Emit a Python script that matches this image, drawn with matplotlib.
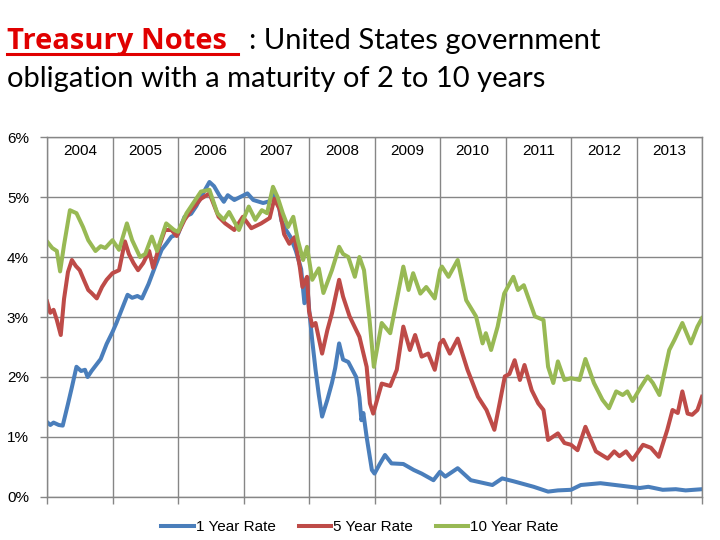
import numpy as np
import matplotlib
matplotlib.use("Agg")
import matplotlib.pyplot as plt

# weekly-ish treasury yields (fractional year, percent)
t_1y = [2004.00, 2004.05, 2004.10, 2004.18, 2004.24, 2004.32, 2004.38, 2004.45, 2004.52, 2004.58,
        2004.62, 2004.68, 2004.75, 2004.82, 2004.91, 2005.00, 2005.06, 2005.15, 2005.23, 2005.30,
        2005.38, 2005.45, 2005.55, 2005.65, 2005.75, 2005.82, 2005.90, 2006.00, 2006.10, 2006.20,
        2006.28, 2006.35, 2006.48, 2006.55, 2006.63, 2006.70, 2006.76, 2006.86, 2006.95, 2007.06,
        2007.15, 2007.30, 2007.40, 2007.45, 2007.53, 2007.58, 2007.65, 2007.72, 2007.80, 2007.88,
        2007.93, 2007.97, 2008.00, 2008.05, 2008.10, 2008.15, 2008.20, 2008.28, 2008.35, 2008.40,
        2008.46, 2008.52, 2008.60, 2008.72, 2008.77, 2008.80, 2008.83, 2008.88, 2008.96, 2009.00,
        2009.08, 2009.16, 2009.26, 2009.44, 2009.60, 2009.72, 2009.90, 2010.00, 2010.08, 2010.27,
        2010.47, 2010.80, 2010.95, 2011.13, 2011.43, 2011.65, 2011.80, 2012.00, 2012.15, 2012.45,
        2012.75, 2013.05, 2013.18, 2013.40, 2013.60, 2013.75, 2014.00]
r_1y = [1.25, 1.20, 1.24, 1.20, 1.19, 1.55, 1.83, 2.17, 2.10, 2.12,
        2.00, 2.10, 2.20, 2.30, 2.55, 2.75, 2.90, 3.15, 3.37, 3.32,
        3.35, 3.31, 3.55, 3.84, 4.12, 4.22, 4.34, 4.38, 4.67, 4.72,
        4.85, 5.00, 5.25, 5.18, 5.03, 4.92, 5.03, 4.95, 5.00, 5.06,
        4.95, 4.90, 4.93, 5.06, 4.90, 4.60, 4.45, 4.33, 4.10, 3.80,
        3.23, 3.56, 3.15, 2.60, 2.12, 1.70, 1.34, 1.62, 1.90, 2.15,
        2.56, 2.29, 2.25, 2.00, 1.66, 1.28, 1.40, 1.00, 0.45, 0.39,
        0.55, 0.70, 0.56, 0.55, 0.45, 0.39, 0.28, 0.42, 0.34, 0.48,
        0.28, 0.20, 0.31, 0.26, 0.17, 0.09, 0.11, 0.12, 0.20, 0.23,
        0.19, 0.15, 0.17, 0.12, 0.13, 0.11, 0.13]

t_5y = [2004.00, 2004.05, 2004.10, 2004.15, 2004.21, 2004.26, 2004.32, 2004.38, 2004.44, 2004.50,
        2004.57, 2004.63, 2004.68, 2004.76, 2004.84, 2004.91, 2005.00, 2005.10, 2005.19, 2005.25,
        2005.32, 2005.39, 2005.47, 2005.56, 2005.62, 2005.72, 2005.80, 2005.90, 2005.98, 2006.10,
        2006.20, 2006.35, 2006.48, 2006.62, 2006.72, 2006.86, 2006.99, 2007.12, 2007.27, 2007.40,
        2007.47, 2007.55, 2007.62, 2007.70, 2007.78, 2007.86, 2007.90, 2007.97, 2008.00, 2008.05,
        2008.10, 2008.20, 2008.28, 2008.35, 2008.46, 2008.52, 2008.62, 2008.77, 2008.88, 2008.93,
        2008.98, 2009.11, 2009.24, 2009.34, 2009.44, 2009.54, 2009.62, 2009.72, 2009.82, 2009.92,
        2010.00, 2010.05, 2010.15, 2010.27, 2010.42, 2010.58, 2010.71, 2010.83, 2010.91, 2010.99,
        2011.06, 2011.14, 2011.22, 2011.29, 2011.40, 2011.50, 2011.58, 2011.65, 2011.80, 2011.90,
        2012.00, 2012.10, 2012.22, 2012.38, 2012.56, 2012.66, 2012.74, 2012.84, 2012.94, 2013.10,
        2013.22, 2013.34, 2013.47, 2013.55, 2013.63, 2013.70, 2013.78, 2013.85, 2013.93, 2014.00]
r_5y = [3.26, 3.07, 3.12, 2.95, 2.70, 3.30, 3.75, 3.95, 3.85, 3.78,
        3.60, 3.45, 3.40, 3.31, 3.50, 3.62, 3.73, 3.78, 4.26, 4.05,
        3.90, 3.78, 3.90, 4.10, 3.82, 4.20, 4.45, 4.45, 4.35, 4.62,
        4.78, 4.97, 5.06, 4.67, 4.56, 4.45, 4.67, 4.48, 4.56, 4.65,
        4.97, 4.80, 4.38, 4.22, 4.33, 3.83, 3.50, 3.67, 3.10, 2.85,
        2.90, 2.39, 2.78, 3.06, 3.62, 3.34, 3.01, 2.67, 2.17, 1.56,
        1.39, 1.89, 1.85, 2.12, 2.84, 2.45, 2.70, 2.34, 2.39, 2.12,
        2.56, 2.62, 2.39, 2.64, 2.12, 1.67, 1.45, 1.12, 1.56, 2.01,
        2.05, 2.28, 1.95, 2.20, 1.78, 1.56, 1.45, 0.95, 1.06, 0.90,
        0.87, 0.78, 1.17, 0.76, 0.64, 0.76, 0.68, 0.76, 0.62, 0.87,
        0.82, 0.67, 1.12, 1.45, 1.40, 1.76, 1.39, 1.37, 1.45, 1.67]

t_10y = [2004.00, 2004.08, 2004.15, 2004.20, 2004.26, 2004.35, 2004.45, 2004.55, 2004.63, 2004.74,
         2004.82, 2004.89, 2005.00, 2005.10, 2005.22, 2005.30, 2005.42, 2005.50, 2005.60, 2005.68,
         2005.82, 2005.94, 2006.00, 2006.13, 2006.35, 2006.48, 2006.60, 2006.70, 2006.78, 2006.93,
         2007.08, 2007.18, 2007.28, 2007.36, 2007.45, 2007.52, 2007.60, 2007.68, 2007.76, 2007.83,
         2007.91, 2007.97, 2008.05, 2008.15, 2008.22, 2008.35, 2008.46, 2008.52, 2008.60, 2008.70,
         2008.77, 2008.84, 2008.92, 2008.99, 2009.11, 2009.24, 2009.44, 2009.52, 2009.59, 2009.70,
         2009.79, 2009.92, 2010.00, 2010.03, 2010.13, 2010.27, 2010.40, 2010.55, 2010.65, 2010.70,
         2010.78, 2010.88, 2010.98, 2011.12, 2011.19, 2011.28, 2011.45, 2011.58, 2011.65, 2011.73,
         2011.80, 2011.90, 2012.00, 2012.13, 2012.22, 2012.35, 2012.48, 2012.58, 2012.69, 2012.79,
         2012.86, 2012.94, 2013.07, 2013.17, 2013.25, 2013.35, 2013.50, 2013.58, 2013.70, 2013.83,
         2013.93, 2014.00]
r_10y = [4.26, 4.15, 4.10, 3.76, 4.20, 4.78, 4.73, 4.50, 4.28, 4.10,
         4.18, 4.15, 4.28, 4.12, 4.56, 4.28, 4.00, 4.05, 4.34, 4.10,
         4.56, 4.45, 4.42, 4.73, 5.09, 5.12, 4.73, 4.62, 4.75, 4.45,
         4.84, 4.62, 4.78, 4.73, 5.17, 5.00, 4.73, 4.50, 4.67, 4.28,
         3.95, 4.17, 3.62, 3.81, 3.40, 3.78, 4.17, 4.05, 4.00, 3.67,
         4.00, 3.78, 3.00, 2.17, 2.90, 2.73, 3.84, 3.45, 3.73, 3.39,
         3.50, 3.31, 3.78, 3.84, 3.67, 3.95, 3.28, 3.01, 2.56, 2.73,
         2.45, 2.84, 3.39, 3.67, 3.45, 3.53, 3.01, 2.95, 2.17, 1.90,
         2.26, 1.95, 1.98, 1.95, 2.30, 1.90, 1.62, 1.48, 1.76, 1.70,
         1.76, 1.60, 1.84, 2.01, 1.90, 1.70, 2.45, 2.62, 2.90, 2.56,
         2.84, 2.98]

years = list(range(2004, 2014))
series_names = ["1 Year Rate", "5 Year Rate", "10 Year Rate"]
colors = ["#4A7EBB", "#BE4B48", "#98B954"]
grid_col = "#868686"

fig = plt.figure(figsize=(7.2, 5.4), dpi=100)
ax = fig.add_axes([47 / 720, 43 / 540, 655 / 720, 360 / 540])

for t, r, c, n in zip([t_1y, t_5y, t_10y], [r_1y, r_5y, r_10y], colors, series_names):
    ax.plot(t, r, color=c, lw=2.9, label=n, solid_joinstyle="round")

ax.set_xlim(2004, 2014)
ax.set_ylim(0, 6)
ax.set_xticks(np.arange(2004, 2015))
ax.set_xticklabels([])
ax.set_yticks(range(7))
ax.set_yticklabels(["%d%%" % v for v in range(7)], fontsize=11, family="Liberation Sans")
ax.grid(True, color=grid_col, lw=1.0)
ax.set_axisbelow(True)
for s in ax.spines.values():
    s.set_color(grid_col)
    s.set_linewidth(1.0)
ax.tick_params(axis="both", direction="out", length=5, color=grid_col, width=1.0)
ax.tick_params(axis="y", pad=8)

for y in years:
    ax.text(y + 0.5, 5.77, str(y), ha="center", va="center", fontsize=11,
            family="Liberation Sans")

fig.legend(loc="center", bbox_to_anchor=(0.5, 13 / 540), ncol=3, frameon=False,
           prop={"family": "Liberation Sans", "size": 11},
           handlelength=2.1, handletextpad=0.15, columnspacing=1.5)

# title, two lines, first words red bold underlined
t1 = fig.text(7 / 720, 1 - 49 / 540, "Treasury Notes", color="#E00000", fontsize=21,
              fontweight="bold", family="Open Sans", va="baseline")
t2 = fig.text(0, 0, ": United States government", fontsize=21, family="Lato",
              va="baseline")
fig.text(7 / 720, 1 - 87 / 540, "obligation with a maturity of 2 to 10 years",
         fontsize=21, family="Lato", va="baseline")
fig.canvas.draw()
bb = t1.get_window_extent()
t2.set_position(((bb.x1 + 22) / 720, 1 - 49 / 540))
fig.add_artist(plt.Line2D([7 / 720, (bb.x1 + 11) / 720], [1 - 54 / 540, 1 - 54 / 540],
                          color="#E00000", lw=2.2, transform=fig.transFigure))

fig.savefig("out.png", dpi=100)
